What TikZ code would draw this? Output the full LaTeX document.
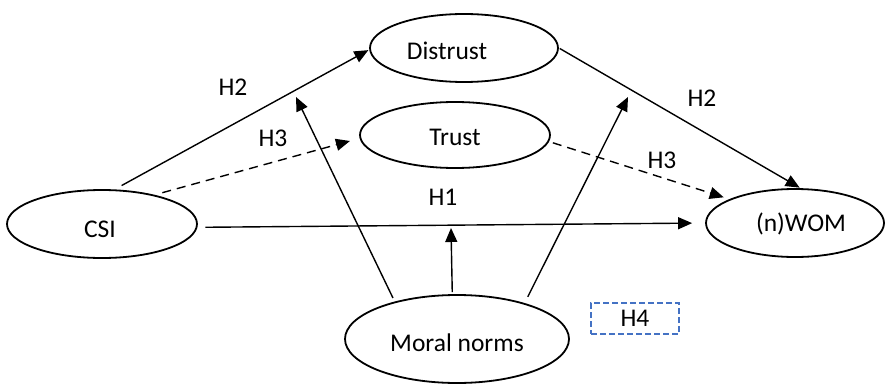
\documentclass[tikz,border=0pt]{standalone}
\usepackage{fontspec}
\setmainfont{Carlito}
\usetikzlibrary{shapes.geometric,arrows.meta}
\definecolor{boxblue}{RGB}{68,114,196}
\begin{document}
\begin{tikzpicture}[x=1pt,y=-1pt,
  ell/.style={ellipse,draw,line width=1.8pt,inner sep=0pt},
  arr/.style={line width=1.4pt,-{Triangle[length=14pt,width=12pt]}},
  dsh/.style={arr,dash pattern=on 9pt off 6pt},
  lab/.style={inner sep=0pt,font=\fontsize{25.5}{30}\selectfont},
  every label/.style={lab}]
\useasboundingbox (0,0) rectangle (885,385);
% ellipses
\node[ell,minimum width=188pt,minimum height=68pt,
  label={[xshift=-17pt,yshift=-3pt]center:Distrust}] (distrust) at (464,48) {};
\node[ell,minimum width=190pt,minimum height=66pt,
  label={[yshift=-2pt]center:Trust}] (trust) at (455,135) {};
\node[ell,minimum width=190pt,minimum height=68pt,
  label={[xshift=-2pt,yshift=-5pt]center:CSI}] (csi) at (102,224) {};
\node[ell,minimum width=178pt,minimum height=68pt,
  label={[xshift=6pt,yshift=-1pt]center:(n)WOM}] (wom) at (795,223) {};
\node[ell,minimum width=224pt,minimum height=88pt,
  label={[yshift=-4pt]center:Moral norms}] (moral) at (457,339) {};
% H4 box
\node[draw=boxblue,line width=1.8pt,dash pattern=on 6pt off 3pt,
  minimum width=88pt,minimum height=31pt,inner sep=0pt,lab] (h4) at (635,318.5) {\raisebox{-4pt}{H4}};
% moderation targets
\coordinate (m1) at (296,97);
\coordinate (m2) at (451,228);
\coordinate (m3) at (628,97);
% connectors
\draw[arr,shorten <=8pt,shorten >=1pt] (csi.70) -- (distrust.181);
\draw[dsh,shorten <=8pt,shorten >=10pt] (csi.29) -- (trust.182);
\draw[arr,shorten <=8pt,shorten >=13pt] (csi.-2.4) -- (wom.180);
\draw[arr,shorten <=1pt,shorten >=1pt] (distrust.east) -- (wom.81.6);
\draw[dsh,shorten <=4pt,shorten >=6pt] (trust.-4.2) -- (wom.160.8);
\draw[arr,shorten <=4pt] (moral.149) -- (m1);
\draw[arr,shorten <=2pt] (moral.96) -- (m2);
\draw[arr,shorten <=7pt] (moral.28) -- (m3);
% labels
\node[lab] (l1) at (233,87) {H2};
\node[lab] (l2) at (273,138) {H3};
\node[lab] (l3) at (443,197) {H1};
\node[lab] (l4) at (702,98) {H2};
\node[lab] (l5) at (662,160) {H3};
\end{tikzpicture}
\end{document}
